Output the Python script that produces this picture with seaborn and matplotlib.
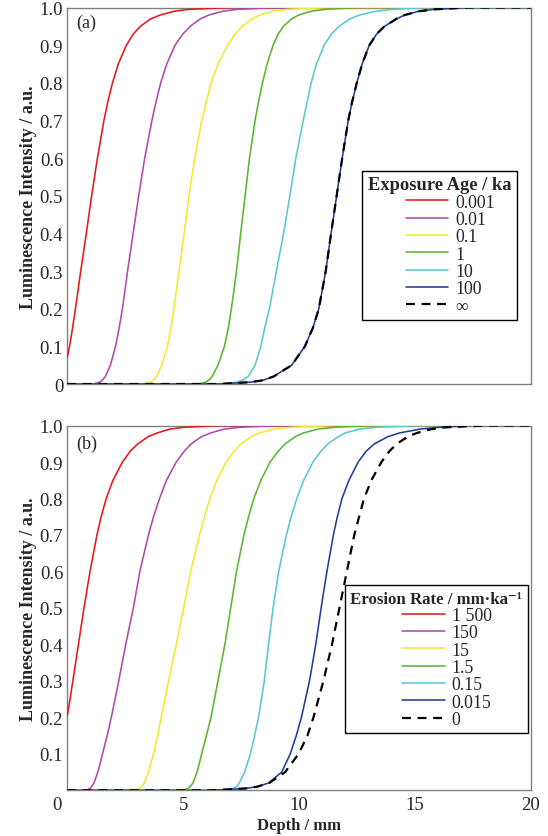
import numpy as np
import pandas as pd
import matplotlib
matplotlib.use("Agg")
import matplotlib.pyplot as plt
import matplotlib.transforms as mtransforms
from matplotlib.offsetbox import HPacker, DrawingArea
import seaborn as sns

sns.set_style("white")
plt.rcParams["font.family"] = ["Liberation Serif", "DejaVu Serif"]
plt.rcParams["mathtext.fontset"] = "stix"

# ---------------------------------------------------------------------------
# Luminescence depth profiles (depth in mm, normalised intensity)
# ---------------------------------------------------------------------------
# Intensity levels shared by the profiles that start fully bleached at the
# surface: flat at 0 from the surface, rising, then flat at 1 down to 20 mm.
LEVELS = [0, 0, 0.005, 0.01, 0.02, 0.05, 0.1, 0.15, 0.2, 0.3, 0.4, 0.5, 0.6,
          0.7, 0.75, 0.8, 0.85, 0.9, 0.93, 0.95, 0.97, 0.98, 0.99, 0.995,
          1.0, 1.0]

# (a) exposure age / ka
age_labels = ["0.001", "0.01", "0.1", "1", "10", "100", "\u221e"]
age_0001_depth = [0, 0.10, 0.23, 0.35, 0.58, 0.82, 1.05, 1.30, 1.58, 1.75,
                  1.95, 2.2, 2.55, 2.85, 3.15, 3.6, 4.0, 4.6, 5.2, 7.0, 20]
age_0001_lum = [0.072, 0.1, 0.15, 0.2, 0.3, 0.4, 0.5, 0.6, 0.7, 0.75, 0.8,
                0.85, 0.9, 0.93, 0.95, 0.97, 0.98, 0.99, 0.995, 1.0, 1.0]
age_001_depth = [0, 1.1, 1.4, 1.51, 1.64, 1.86, 2.08, 2.24, 2.38, 2.6, 2.84,
                 3.08, 3.34, 3.65, 3.83, 4.03, 4.29, 4.65, 4.99, 5.3, 5.74,
                 6.1, 6.7, 7.3, 9.0, 20]
age_01_depth = [0, 3.3, 3.6, 3.72, 3.85, 4.07, 4.32, 4.48, 4.6, 4.82, 5.04,
                5.25, 5.5, 5.8, 6.0, 6.2, 6.5, 6.92, 7.25, 7.55, 7.98, 8.3,
                8.85, 9.45, 11.3, 20]
age_1_depth = [0, 5.65, 5.98, 6.1, 6.25, 6.5, 6.78, 6.95, 7.08, 7.3, 7.48,
               7.67, 7.86, 8.1, 8.25, 8.42, 8.62, 8.88, 9.1, 9.32, 9.68, 9.98,
               10.5, 11.1, 12.5, 20]
age_10_depth = [0, 6.8, 7.35, 7.55, 7.8, 8.1, 8.35, 8.52, 8.72, 9.02, 9.33,
                9.6, 9.86, 10.18, 10.35, 10.52, 10.75, 11.08, 11.4, 11.72,
                12.2, 12.6, 13.3, 14.0, 15.5, 20]
age_100_depth = [0, 6.5, 7.9, 8.45, 8.9, 9.68, 10.25, 10.6, 10.85, 11.15,
                 11.38, 11.62, 11.86, 12.12, 12.29, 12.49, 12.72, 13.03,
                 13.35, 13.68, 14.2, 14.55, 15.15, 15.8, 17.3, 20]
age_inf_depth = [0, 6.5, 7.9, 8.45, 8.9, 9.68, 10.25, 10.6, 10.85, 11.15,
                 11.38, 11.62, 11.86, 12.12, 12.29, 12.49, 12.72, 13.03,
                 13.35, 13.68, 14.2, 14.55, 15.15, 15.8, 17.3, 20]

# (b) erosion rate / mm per ka
ero_labels = ["1 500", "150", "15", "1.5", "0.15", "0.015", "0"]
ero_1500_depth = [0, 0.12, 0.24, 0.48, 0.72, 0.98, 1.28, 1.46, 1.68, 1.97,
                  2.38, 2.72, 3.05, 3.5, 3.9, 4.4, 5.0, 6.5, 20]
ero_1500_lum = [0.205, 0.25, 0.3, 0.4, 0.5, 0.6, 0.7, 0.75, 0.8, 0.85, 0.9,
                0.93, 0.95, 0.97, 0.98, 0.99, 0.995, 1.0, 1.0]
ero_150_depth = [0, 0.82, 0.97, 1.05, 1.15, 1.32, 1.52, 1.72, 1.9, 2.22,
                 2.52, 2.85, 3.13, 3.5, 3.72, 3.98, 4.28, 4.7, 5.05, 5.35,
                 5.8, 6.2, 6.75, 7.4, 9.0, 20]
ero_15_depth = [0, 2.92, 3.1, 3.2, 3.32, 3.5, 3.72, 3.9, 4.05, 4.37, 4.7,
                5.02, 5.32, 5.7, 5.92, 6.15, 6.45, 6.85, 7.2, 7.5, 7.95, 8.3,
                8.9, 9.6, 11.5, 20]
ero_1p5_depth = [0, 5.0, 5.2, 5.3, 5.42, 5.6, 5.8, 6.0, 6.2, 6.5, 6.8, 7.05,
                 7.3, 7.62, 7.82, 8.05, 8.35, 8.75, 9.1, 9.4, 9.85, 10.2,
                 10.8, 11.5, 13.0, 20]
ero_0p15_depth = [0, 6.9, 7.15, 7.3, 7.42, 7.65, 7.9, 8.08, 8.25, 8.5, 8.68,
                  8.88, 9.12, 9.45, 9.66, 9.9, 10.2, 10.6, 10.95, 11.25, 11.7,
                  12.0, 12.6, 13.3, 15.0, 20]
ero_0p015_depth = [0, 6.2, 7.67, 8.2, 8.68, 9.25, 9.62, 9.88, 10.1, 10.45,
                   10.72, 10.95, 11.2, 11.48, 11.65, 11.85, 12.15, 12.55,
                   12.9, 13.25, 13.85, 14.35, 15.2, 16.0, 17.5, 20]
ero_0_depth = [0, 6.2, 7.67, 8.2, 8.71, 9.4, 9.98, 10.36, 10.62, 11.05,
               11.42, 11.74, 12.06, 12.38, 12.59, 12.8, 13.12, 13.55, 13.9,
               14.22, 14.7, 15.1, 15.7, 16.3, 18.0, 20]

# Axis tick labels
y_ticks = [0, 0.1, 0.2, 0.3, 0.4, 0.5, 0.6, 0.7, 0.8, 0.9, 1.0]
y_ticklabels = ["0", "0.1", "0.2", "0.3", "0.4", "0.5", "0.6", "0.7", "0.8",
                "0.9", "1.0"]
x_ticks = [0, 5, 10, 15, 20]
x_ticklabels = ["0", "5", "10", "15", "20"]

COLORS = ["#e8161d", "#b04aaa", "#f2ea2e", "#5db431", "#5cc6d2", "#1d3f99",
          "black"]
SPINE = "#808080"


def profiles_a():
    return [
        (age_0001_depth, age_0001_lum),
        (age_001_depth, LEVELS),
        (age_01_depth, LEVELS),
        (age_1_depth, LEVELS),
        (age_10_depth, LEVELS),
        (age_100_depth, LEVELS),
        (age_inf_depth, LEVELS),
    ]


def profiles_b():
    return [
        (ero_1500_depth, ero_1500_lum),
        (ero_150_depth, LEVELS),
        (ero_15_depth, LEVELS),
        (ero_1p5_depth, LEVELS),
        (ero_0p15_depth, LEVELS),
        (ero_0p015_depth, LEVELS),
        (ero_0_depth, LEVELS),
    ]


def draw_panel(ax, profiles, labels):
    for i, ((depth, lum), lab) in enumerate(zip(profiles, labels)):
        df = pd.DataFrame({"depth": depth, "lum": lum})
        last = i == len(labels) - 1
        sns.lineplot(data=df, x="depth", y="lum", ax=ax, color=COLORS[i],
                     linewidth=1.6 if last else 1.15,
                     linestyle=(0, (4, 3)) if last else "-",
                     estimator=None, sort=False, label=lab,
                     zorder=3 + i)
    ax.set_xlim(0, 20)
    ax.set_ylim(0, 1)
    ax.set_xlabel("")
    ax.set_ylabel("Luminescence Intensity / a.u.", fontsize=13,
                  fontweight="bold", labelpad=2)
    for sp in ax.spines.values():
        sp.set_color(SPINE)
        sp.set_linewidth(1.0)
    ax.tick_params(axis="y", length=0, pad=3, labelsize=13.5)
    ax.tick_params(axis="x", direction="in", length=3, color=SPINE,
                   width=0.8, pad=4, labelsize=13.5)


def style_legend(ax, title, anchor, title_size, indent_px):
    handles, labels = ax.get_legend_handles_labels()
    leg = ax.legend(handles, labels, title=title, loc="lower right",
                    bbox_to_anchor=anchor, borderaxespad=0, frameon=True,
                    fancybox=False, edgecolor="black", framealpha=1,
                    fontsize=12.8, handlelength=2.4, handletextpad=0.38,
                    labelspacing=0.02, borderpad=0.3, alignment="left",
                    title_fontproperties={"weight": "bold",
                                          "size": title_size})
    leg.get_frame().set_linewidth(1.0)
    # indent the entry block under the bold title
    vbox = leg._legend_box
    title_box, entry_box = vbox.get_children()
    spacer = DrawingArea(indent_px * 0.72, 1)
    row = HPacker(pad=0, sep=0, align="top", children=[spacer, entry_box])
    row.set_figure(ax.figure)
    vbox._children = [title_box, row]
    return leg


fig = plt.figure(figsize=(5.48, 8.37), dpi=100)
ax_a = fig.add_axes([0.1228, 0.540, 0.846, 0.4498])
ax_b = fig.add_axes([0.1228, 0.0546, 0.846, 0.4358])

# Panel (a): exposure age
draw_panel(ax_a, profiles_a(), age_labels)
ax_a.set_yticks(y_ticks)
ax_a.set_yticklabels(y_ticklabels)
ax_a.set_xticks(x_ticks[1:-1])
ax_a.tick_params(axis="x", labelbottom=False)
ax_a.text(0.02, 0.961, "(a)", transform=ax_a.transAxes, ha="left",
          va="center", fontsize=13)
style_legend(ax_a, "Exposure Age / ka", (0.969, 0.170), 13.3, 38)

# Panel (b): erosion rate
draw_panel(ax_b, profiles_b(), ero_labels)
ax_b.set_yticks(y_ticks[1:])
ax_b.set_yticklabels(y_ticklabels[1:])
ax_b.set_xticks(x_ticks)
ax_b.set_xticklabels(x_ticklabels)
ax_b.set_xlabel("Depth / mm", fontsize=12, fontweight="bold", labelpad=3)
# shift the origin label left so it sits under the y tick column
zero_lab = ax_b.get_xticklabels()[0]
zero_lab.set_transform(zero_lab.get_transform() +
                       mtransforms.ScaledTranslation(-10 / 100, 0,
                                                     fig.dpi_scale_trans))
ax_b.text(0.02, 0.952, "(b)", transform=ax_b.transAxes, ha="left",
          va="center", fontsize=13)
style_legend(ax_b, "Erosion Rate / mm\u00b7ka\u207b\u00b9", (0.993, 0.156),
             12.1, 52)

fig.savefig("out.png", dpi=100, facecolor="white")
